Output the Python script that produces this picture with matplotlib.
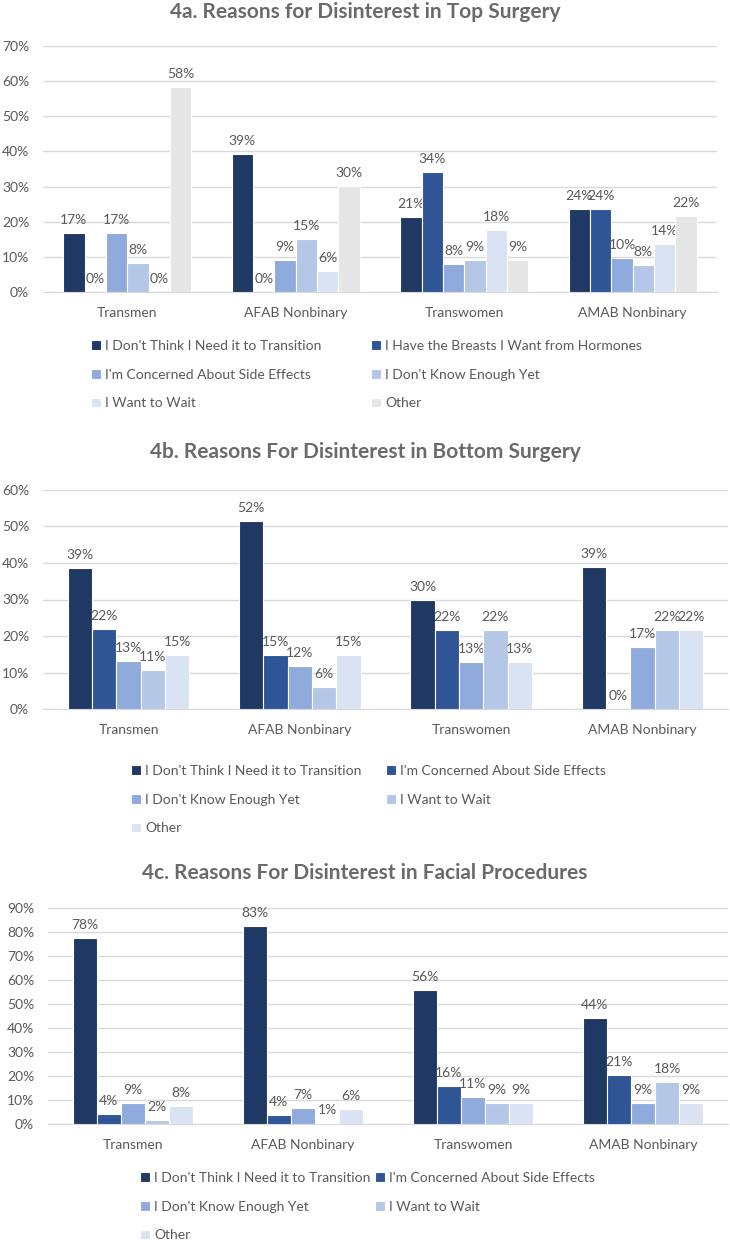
import numpy as np
import matplotlib
matplotlib.use("Agg")
import matplotlib.pyplot as plt
from matplotlib.ticker import PercentFormatter

plt.rcParams['font.family'] = ['Lato', 'DejaVu Sans']

groups = ["Transmen", "AFAB Nonbinary", "Transwomen", "AMAB Nonbinary"]

# 4a. Top surgery (percent)
top_series = ["I Don't Think I Need it to Transition",
              "I Have the Breasts I Want from Hormones",
              "I'm Concerned About Side Effects",
              "I Don't Know Enough Yet",
              "I Want to Wait",
              "Other"]
top_values = [
    [16.7, 39.4, 21.3, 23.6],
    [0.0, 0.0, 34.1, 23.6],
    [16.7, 9.1, 8.0, 9.8],
    [8.3, 15.2, 9.0, 7.8],
    [0.0, 6.1, 17.7, 13.6],
    [58.3, 30.3, 9.0, 21.6],
]

# 4b. Bottom surgery
bottom_series = ["I Don't Think I Need it to Transition",
                 "I'm Concerned About Side Effects",
                 "I Don't Know Enough Yet",
                 "I Want to Wait",
                 "Other"]
bottom_values = [
    [38.6, 51.6, 29.9, 38.9],
    [21.8, 14.9, 21.6, 0.0],
    [13.1, 11.8, 13.0, 17.1],
    [10.8, 6.0, 21.6, 21.7],
    [14.9, 14.9, 13.0, 21.7],
]

# 4c. Facial procedures
facial_series = bottom_series
facial_values = [
    [77.6, 82.6, 55.9, 44.1],
    [4.2, 3.6, 15.7, 20.6],
    [8.6, 6.8, 11.1, 8.8],
    [1.7, 0.6, 8.6, 17.6],
    [7.6, 6.1, 8.6, 8.8],
]

colors6 = ["#203864", "#2F5597", "#8FAADC", "#B4C7E7", "#DAE3F3", "#E7E6E6"]
colors5 = ["#203864", "#2F5597", "#8FAADC", "#B4C7E7", "#DAE3F3"]

TXT = "#595959"
GRID = "#D9D9D9"

fig = plt.figure(figsize=(7.3, 12.43), dpi=100)
H = 1243.0
W = 730.0


def draw(rect, title, title_y, series, values, colors, ymax, group_w,
         leg_x, leg_y, colspace):
    ax = fig.add_axes(rect)
    n = len(series)
    x = np.arange(len(groups))
    bw = group_w / n
    for i, (name, vals) in enumerate(zip(series, values)):
        pos = x - group_w / 2 + bw * (i + 0.5)
        bars = ax.bar(pos, vals, width=bw, color=colors[i], edgecolor="white",
                      linewidth=0.8, label=name, zorder=3)
        ax.bar_label(bars, labels=[f"{v:.0f}%" for v in vals], padding=5,
                     fontsize=10, color=TXT)
    ax.set_xlim(-0.5, len(groups) - 0.5)
    ax.set_ylim(0, ymax)
    ax.set_yticks(np.arange(0, ymax + 0.1, 10))
    ax.yaxis.set_major_formatter(PercentFormatter(decimals=0))
    ax.set_xticks(x)
    ax.set_xticklabels(groups)
    ax.tick_params(length=0, labelsize=10, labelcolor=TXT)
    ax.tick_params(axis="y", pad=10)
    ax.tick_params(axis="x", pad=11)
    for s in ["top", "right", "left"]:
        ax.spines[s].set_visible(False)
    ax.spines["bottom"].set_color(GRID)
    ax.grid(axis="y", color=GRID, linewidth=1, zorder=0)
    fig.text(0.5, 1 - title_y / H, title, ha="center", va="center",
             fontsize=15, fontweight="bold", color="#6A6A6A")
    # legend reads row by row, matplotlib fills columns first
    handles, labels = ax.get_legend_handles_labels()
    order = list(range(0, n, 2)) + list(range(1, n, 2))
    fig.legend([handles[k] for k in order], [labels[k] for k in order],
               ncol=2, loc="upper left",
               bbox_to_anchor=(leg_x / W, 1 - leg_y / H), frameon=False,
               fontsize=10, labelcolor=TXT, handlelength=0.7,
               handleheight=0.7, handletextpad=0.3, columnspacing=colspace,
               labelspacing=1.2, borderpad=0, borderaxespad=0)
    return ax


draw([43 / W, 1 - 292 / H, 674 / W, 246 / H],
     "4a. Reasons for Disinterest in Top Surgery", 12,
     top_series, top_values, colors6, 70, 0.76, 91, 340, 3.6)

draw([43 / W, 1 - 709 / H, 685 / W, 219 / H],
     "4b. Reasons For Disinterest in Bottom Surgery", 452,
     bottom_series, bottom_values, colors5, 60, 0.71, 131, 765, 1.8)

draw([48 / W, 1 - 1124 / H, 680 / W, 216 / H],
     "4c. Reasons For Disinterest in Facial Procedures", 873,
     facial_series, facial_values, colors5, 90, 0.71, 140, 1172, 0.36)

fig.savefig("out.png", dpi=100)
